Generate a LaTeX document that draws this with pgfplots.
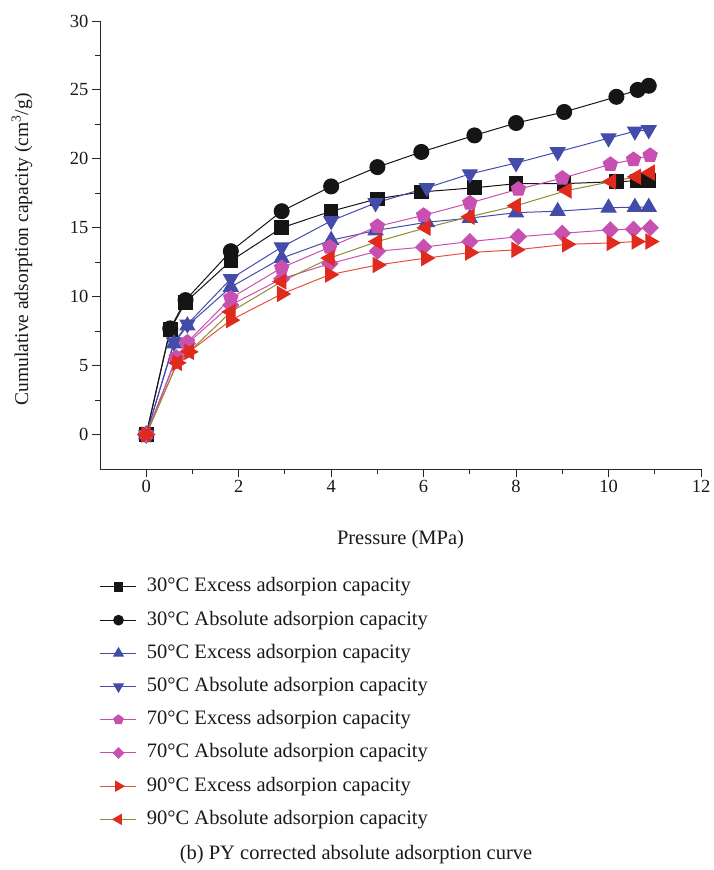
\documentclass[border=0pt]{standalone}
\usepackage{fontspec}
\setmainfont{Liberation Serif}
\usepackage{pgfplots}
\usepackage{pgfplotstable}
\pgfplotsset{compat=1.18}
\definecolor{cblack}{HTML}{151515}
\definecolor{cblue}{HTML}{444CAA}
\definecolor{cpink}{HTML}{C850B0}
\definecolor{cred}{HTML}{E02A1E}
\definecolor{credl}{HTML}{E8503C}
\definecolor{colive}{HTML}{8C8C30}

\pgfplotstableread{
p ex ab
0    0    0
0.52 7.6  7.7
0.85 9.6  9.75
1.83 12.6 13.3
2.93 15.0 16.2
4.0  16.2 18.0
5.0  17.1 19.4
5.95 17.6 20.5
7.1  17.9 21.7
8.0  18.2 22.6
9.04 18.2 23.4
10.17 18.35 24.5
10.63 18.4 25.0
10.87 18.45 25.3
}\tthirty

\pgfplotstableread{
p ex ab
0    0    0
0.6  6.6  6.7
0.89 7.9  8.0
1.83 10.7 11.3
2.93 12.8 13.6
4.0  14.1 15.5
4.96 14.8 16.8
6.07 15.4 17.9
7.0  15.7 18.9
8.0  16.1 19.7
8.9  16.2 20.5
10.0 16.45 21.5
10.57 16.5 22.0
10.87 16.5 22.1
}\tfifty

\pgfplotstableread{
p pent dia
0    0    0
0.65 5.6  5.5
0.89 6.7  6.6
1.83 9.9  9.4
2.93 12.1 11.3
3.97 13.6 12.4
5.0  15.1 13.3
6.0  15.9 13.6
7.0  16.8 14.0
8.05 17.8 14.35
9.0  18.6 14.6
10.04 19.6 14.85
10.54 19.95 14.9
10.9 20.25 15.0
}\tseventy

\pgfplotstableread{
p ex ab
0    0    0
0.67 5.2  5.2
0.93 6.0  6.0
1.83 8.3  8.9
2.93 10.2 11.1
3.97 11.6 12.8
5.0  12.3 14.0
6.05 12.8 15.0
7.0  13.2 15.8
8.0  13.4 16.6
9.1  13.8 17.7
10.06 13.9 18.35
10.6 14.0 18.7
10.9 14.0 19.0
}\tninety

\begin{document}
\begin{tikzpicture}
\begin{axis}[
  name=ax,
  width=601pt, height=448pt, scale only axis,
  xmin=-1, xmax=12, ymin=-2.5, ymax=30,
  axis x line=bottom, axis y line=left,
  axis line style={-, line width=0.9pt, black!85},
  xtick={0,2,...,12}, ytick={0,5,...,30}, minor tick num=1,
  tick align=outside, major tick length=8pt, minor tick length=4.5pt,
  every tick/.style={line width=0.9pt, black!85},
  /pgf/number format/assume math mode=true,
  tick label style={font=\fontsize{18.5}{20}\selectfont, black!90},
  xlabel style={font=\fontsize{20.5}{22}\selectfont, black!90},
  ylabel style={font=\fontsize{19.5}{22}\selectfont, black!90},
  xlabel={Pressure (MPa)},
  ylabel={Cumulative adsorption capacity (cm\textsuperscript{3}/g)},
  xlabel style={at={(rel axis cs:0.5,-0.158)}, anchor=center},
  ylabel style={at={(rel axis cs:-0.13,0.49)}, anchor=center},
  legend style={at={(rel axis cs:0,-0.243)}, anchor=north west,
    draw=none, fill=none, inner sep=0pt, outer sep=0pt,
    font=\fontsize{20.5}{22}\selectfont, text=black!90,
    row sep=15pt,
    nodes={inner xsep=4pt, inner ysep=0pt, text height=14pt, text depth=4.2pt},
    /tikz/every odd column/.style={column sep=6pt}},
  legend cell align=left,
  legend image code/.code={\draw[mark repeat=2,mark phase=2,/tikz/every mark/.append style={scale=0.65}] plot coordinates {(0pt,0pt)(18pt,0pt)(36pt,0pt)};},
  every axis plot/.append style={line width=1pt},
]
\addplot[cblack, mark=square*, mark size=6.8pt, mark options={fill=cblack, draw=cblack}] table[x=p,y=ex] {\tthirty};
\addlegendentry{30°C Excess adsorpion capacity}
\addplot[cblack, mark=*, mark size=7.5pt, mark options={fill=cblack, draw=cblack}] table[x=p,y=ab] {\tthirty};
\addlegendentry{30°C Absolute adsorpion capacity}
\addplot[cblue, mark=triangle*, mark size=8.5pt, mark options={fill=cblue, draw=cblue}] table[x=p,y=ex] {\tfifty};
\addlegendentry{50°C Excess adsorpion capacity}
\addplot[cblue, mark=triangle*, mark size=8.5pt, mark options={fill=cblue, draw=cblue, rotate=180}] table[x=p,y=ab] {\tfifty};
\addlegendentry{50°C Absolute adsorpion capacity}
\addplot[cpink, mark=pentagon*, mark size=7.5pt, mark options={fill=cpink, draw=cpink}] table[x=p,y=pent] {\tseventy};
\addlegendentry{70°C Excess adsorpion capacity}
\addplot[cpink, mark=square*, mark size=5.6pt, mark options={fill=cpink, draw=cpink, rotate=45}] table[x=p,y=dia] {\tseventy};
\addlegendentry{70°C Absolute adsorpion capacity}
\addplot[credl, mark=triangle*, mark size=8.5pt, mark options={fill=cred, draw=cred, rotate=-90}] table[x=p,y=ex] {\tninety};
\addlegendentry{90°C Excess adsorpion capacity}
\addplot[colive, mark=triangle*, mark size=8.5pt, mark options={fill=cred, draw=cred, rotate=90}] table[x=p,y=ab] {\tninety};
\addlegendentry{90°C Absolute adsorpion capacity}
\end{axis}
\node[font=\fontsize{20.5}{22}\selectfont, text=black!90, anchor=center] at ([xshift=-44.5pt, yshift=-386pt]ax.south) {(b) PY corrected absolute adsorption curve};
\path[use as bounding box] ([xshift=-100pt, yshift=-401pt]ax.south west) rectangle ++(713pt,870pt);
\end{tikzpicture}
\end{document}
